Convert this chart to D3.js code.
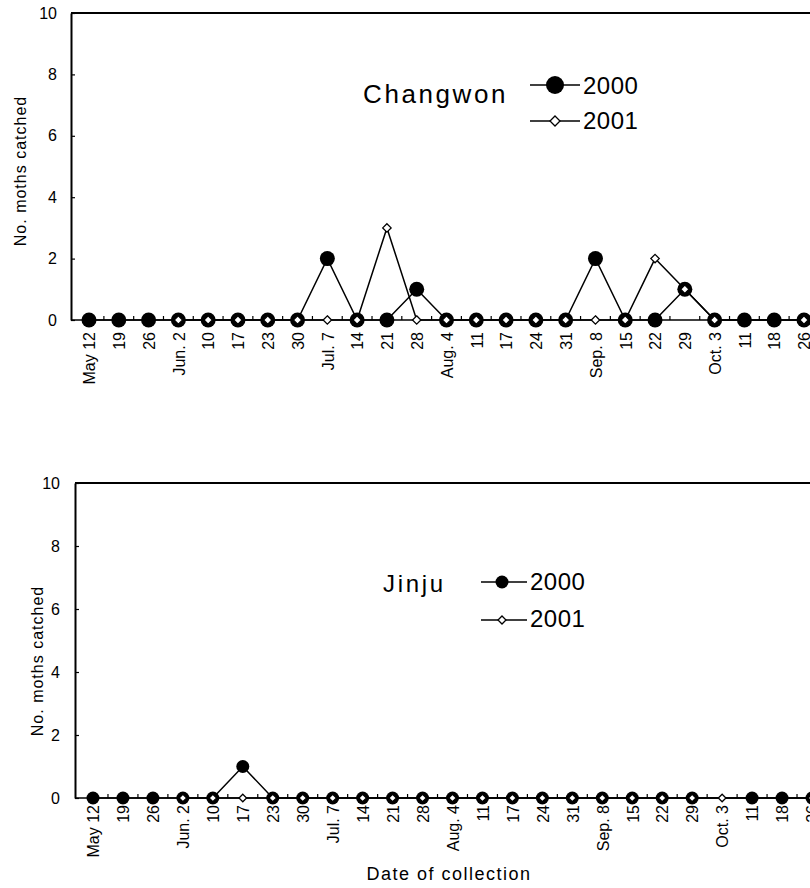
<!DOCTYPE html>
<html>
<head>
<meta charset="utf-8">
<script src="https://cdn.jsdelivr.net/npm/d3@7"></script>
<style>
  html, body { margin: 0; padding: 0; background: #fff; }
  svg { display: block; }
  text { font-family: "Liberation Sans", Arial, Helvetica, sans-serif; fill: #000; }
</style>
</head>
<body>
<svg id="chart" width="810" height="888"></svg>
<script>
// Collection dates (weekly trap checks)
const tickLabels = ["May 12","19","26","Jun. 2","10","17","23","30","Jul. 7","14","21","28",
  "Aug. 4","11","17","24","31","Sep. 8","15","22","29","Oct. 3","11","18","26"];

// Moths caught per collection; null = no record
const changwon2000 = [0,0,0,0,0,0,0,0,2,0,0,1,0,0,0,0,0,2,0,0,1,0,0,0,0];
const changwon2001 = [null,null,null,0,0,0,0,0,0,0,3,0,0,0,0,0,0,0,0,2,1,0,null,null,0];
const jinju2000 = [0,0,0,0,0,1,0,0,0,0,0,0,0,0,0,0,0,0,0,0,0,null,0,0,0];
const jinju2001 = [null,null,null,0,0,0,0,0,0,0,0,0,0,0,0,0,0,0,0,0,0,0,null,null,0];

const yTicks = [0,2,4,6,8,10];
const seriesNames = ["2000","2001"];

const W = 810;
const svg = d3.select("#chart");
svg.append("rect").attr("width", W).attr("height", 888).attr("fill", "#fff");

const panels = [
  { site: "Changwon", s2000: changwon2000, s2001: changwon2001,
    axisX: 71, top: 13, base: 320, x0: 89, x1: 804, r: 7.5, d: 4.2,
    labelOffset: 12, tickPad: 14, yLabelX: 20, yLabelY: 171,
    siteX: 363, siteY: 103, siteSize: 26, siteSpacing: 2.6,
    legLine: [530, 580], legMark: 555, legRows: [85, 121], legR: 9, legD: 5,
    legTextX: 583, legTextY: [94, 129] },
  { site: "Jinju", s2000: jinju2000, s2001: jinju2001,
    axisX: 75, top: 483, base: 798, x0: 93, x1: 812, r: 6.5, d: 3.8,
    labelOffset: 7, tickPad: 15, yLabelX: 37, yLabelY: 661,
    siteX: 383, siteY: 592, siteSize: 24, siteSpacing: 2.7,
    legLine: [481, 527], legMark: 502, legRows: [582, 620], legR: 6.5, legD: 4,
    legTextX: 530, legTextY: [590, 627] }
];

const diamond = (cx, cy, s) => `M${cx},${cy - s}L${cx + s},${cy}L${cx},${cy + s}L${cx - s},${cy}Z`;

panels.forEach(p => {
  const g = svg.append("g");
  const x = d3.scalePoint().domain(d3.range(tickLabels.length)).range([p.x0, p.x1]);
  const y = d3.scaleLinear().domain([0, 10]).range([p.base, p.top]);
  const step = x.step();

  // frame: top border and baseline run off to the right edge
  g.append("line").attr("x1", p.axisX).attr("x2", W).attr("y1", y(10)).attr("y2", y(10))
    .attr("stroke", "#000").attr("stroke-width", 2);
  g.append("line").attr("x1", p.axisX).attr("x2", W).attr("y1", y(0)).attr("y2", y(0))
    .attr("stroke", "#000").attr("stroke-width", 1.6);

  // y axis
  const yAxis = d3.axisLeft(y).tickValues(yTicks).tickFormat(d3.format("d"))
    .tickSizeInner(-4).tickSizeOuter(0).tickPadding(p.tickPad);
  const ya = g.append("g").attr("transform", `translate(${p.axisX},0)`).call(yAxis);
  ya.select(".domain").attr("stroke-width", 2);
  ya.selectAll(".tick line").attr("stroke-width", 1.2);
  ya.selectAll("text").style("font-family", "Liberation Sans, Arial, sans-serif")
    .style("font-size", "16px").attr("fill", "#000");

  // minor ticks between collection dates
  g.append("g").selectAll("line")
    .data(d3.range(tickLabels.length))
    .join("line")
    .attr("x1", i => x(i) + step / 2).attr("x2", i => x(i) + step / 2)
    .attr("y1", y(0)).attr("y2", y(0) - 4)
    .attr("stroke", "#000").attr("stroke-width", 1.2);

  // x axis labels, rotated
  const xAxis = d3.axisBottom(x).tickFormat(i => tickLabels[i]).tickSize(0);
  const xa = g.append("g").attr("transform", `translate(0,${y(0)})`).call(xAxis);
  xa.select(".domain").remove();
  xa.selectAll("text")
    .attr("transform", "rotate(-90)")
    .attr("text-anchor", "end")
    .attr("x", -p.labelOffset).attr("y", 0).attr("dy", "0.36em")
    .style("font-family", "Liberation Sans, Arial, sans-serif")
    .style("font-size", "16px").attr("fill", "#000");

  // y axis title
  g.append("text")
    .attr("transform", `translate(${p.yLabelX},${p.yLabelY}) rotate(-90)`)
    .attr("text-anchor", "middle").attr("dy", "0.36em")
    .style("font-size", "16px").style("letter-spacing", "1px")
    .text("No. moths catched");

  // series lines
  const line = d3.line().x(d => x(d.i)).y(d => y(d.v));
  const pts = arr => arr.map((v, i) => ({ i, v })).filter(d => d.v !== null);
  [p.s2000, p.s2001].forEach(s => {
    g.append("path").attr("d", line(pts(s))).attr("fill", "none")
      .attr("stroke", "#000").attr("stroke-width", 1.5);
  });

  // 2000: filled circles
  g.append("g").selectAll("circle").data(pts(p.s2000)).join("circle")
    .attr("cx", d => x(d.i)).attr("cy", d => y(d.v)).attr("r", p.r).attr("fill", "#000");
  // 2001: open diamonds
  g.append("g").selectAll("path").data(pts(p.s2001)).join("path")
    .attr("d", d => diamond(x(d.i), y(d.v), p.d))
    .attr("fill", "#fff").attr("stroke", "#000").attr("stroke-width", 1.3);

  // legend
  g.append("text").attr("x", p.siteX).attr("y", p.siteY)
    .style("font-size", p.siteSize + "px").style("letter-spacing", p.siteSpacing + "px")
    .text(p.site);
  seriesNames.forEach((name, k) => {
    const cy = p.legRows[k];
    g.append("line").attr("x1", p.legLine[0]).attr("x2", p.legLine[1])
      .attr("y1", cy).attr("y2", cy).attr("stroke", "#000").attr("stroke-width", 1.5);
    if (k === 0) {
      g.append("circle").attr("cx", p.legMark).attr("cy", cy).attr("r", p.legR).attr("fill", "#000");
    } else {
      g.append("path").attr("d", diamond(p.legMark, cy, p.legD))
        .attr("fill", "#fff").attr("stroke", "#000").attr("stroke-width", 1.3);
    }
    g.append("text").attr("x", p.legTextX).attr("y", p.legTextY[k])
      .style("font-size", "24px").style("letter-spacing", "0.5px").text(name);
  });
});

// shared x axis title
svg.append("text").attr("x", 449).attr("y", 880).attr("text-anchor", "middle")
  .style("font-size", "18px").style("letter-spacing", "1.5px")
  .text("Date of collection");
</script>
</body>
</html>
